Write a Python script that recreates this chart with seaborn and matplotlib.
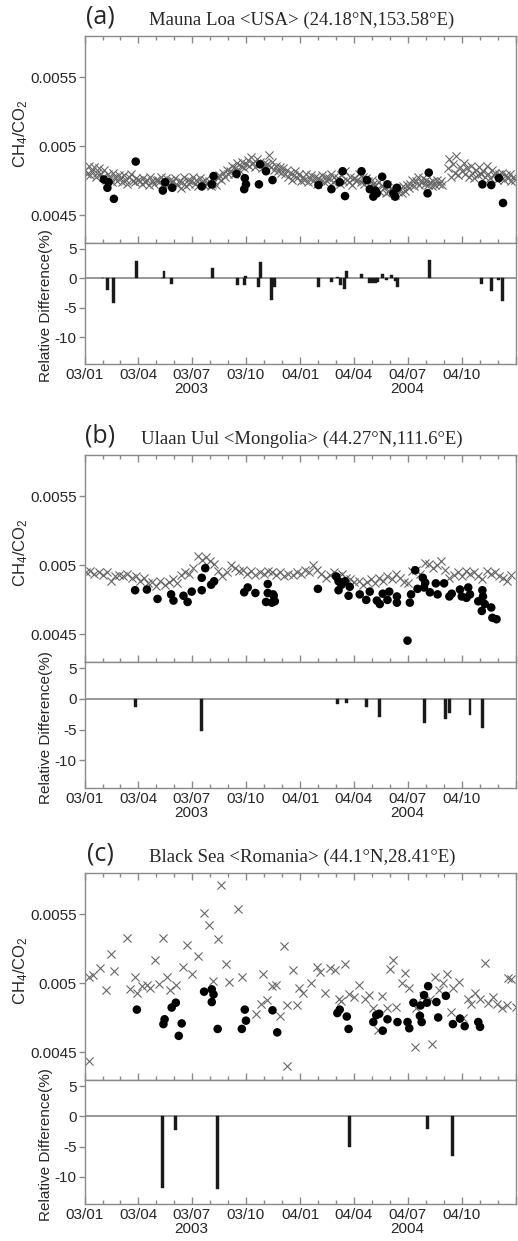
import numpy as np
import pandas as pd
import matplotlib
matplotlib.use("Agg")
import matplotlib.pyplot as plt
import matplotlib.dates as mdates
import seaborn as sns

# ---------------- data (ratios in units of 1e-3, days since 2003-01-01) ----------------
START = pd.Timestamp("2003-01-01")

# (a) Mauna Loa: model every 3 days
a_model = [
    4.83, 4.80, 4.86, 4.79, 4.82, 4.85, 4.78, 4.81, 4.84, 4.80,
    4.78, 4.83, 4.76, 4.80, 4.77, 4.74, 4.81, 4.78, 4.75, 4.79,
    4.77, 4.74, 4.79, 4.76, 4.73, 4.78, 4.80, 4.75, 4.74, 4.77, 4.76,
    4.75, 4.73, 4.77, 4.74, 4.76, 4.72, 4.78, 4.75, 4.73, 4.76,
    4.76, 4.74, 4.78, 4.73, 4.75, 4.77, 4.72, 4.76, 4.74, 4.75,
    4.77, 4.72, 4.75, 4.70, 4.74, 4.78, 4.71, 4.76, 4.73, 4.75,
    4.78, 4.73, 4.76, 4.71, 4.77, 4.74, 4.72, 4.76, 4.73, 4.75, 4.71,
    4.73, 4.75, 4.72, 4.77, 4.79, 4.76, 4.81, 4.78, 4.83, 4.80,
    4.82, 4.86, 4.80, 4.84, 4.88, 4.83, 4.86, 4.89, 4.84, 4.87,
    4.90, 4.86, 4.92, 4.88, 4.85, 4.91, 4.87, 4.89, 4.84, 4.88, 4.86,
    4.87, 4.94, 4.85, 4.89, 4.83, 4.86, 4.82, 4.85, 4.81, 4.84,
    4.80, 4.83, 4.78, 4.81, 4.76, 4.79, 4.82, 4.77, 4.80, 4.75,
    4.78, 4.76, 4.80, 4.74, 4.77, 4.79, 4.75, 4.78, 4.73, 4.77,
    4.76, 4.79, 4.74, 4.78, 4.75, 4.77, 4.80, 4.74, 4.78, 4.76,
    4.77, 4.73, 4.79, 4.75, 4.82, 4.76, 4.74, 4.78, 4.72, 4.77, 4.75,
    4.76, 4.80, 4.74, 4.78, 4.73, 4.77, 4.75, 4.71, 4.76, 4.73,
    4.72, 4.69, 4.74, 4.67, 4.71, 4.70, 4.66, 4.72, 4.68, 4.70,
    4.68, 4.65, 4.70, 4.67, 4.69, 4.66, 4.71, 4.68, 4.72, 4.70,
    4.73, 4.76, 4.71, 4.75, 4.78, 4.72, 4.74, 4.77, 4.73, 4.76, 4.72,
    4.74, 4.71, 4.75, 4.72, 4.76, 4.73, 4.75, 4.72, np.nan, np.nan,
    4.84, 4.91, 4.78, 4.87, 4.81, 4.93, 4.79, 4.85, 4.82, 4.88,
    4.80, 4.84, 4.78, 4.86, 4.81, 4.77, 4.83, 4.79, 4.85, 4.80,
    4.82, 4.78, 4.86, 4.80, 4.77, 4.83, 4.79, 4.81, 4.76, 4.80,
    4.78, 4.81, 4.76, 4.79, 4.77, 4.80, 4.75, 4.78, 4.76,
]
a_obs_day = [32, 38, 40, 49, 86, 132, 136, 148, 198, 215, 218, 257, 270, 271, 273,
             295, 297, 307, 318, 396, 418, 432, 437, 441, 469, 478, 483, 489, 492,
             495, 504, 513, 523, 526, 529, 581, 583, 674, 689, 702, 709]
a_obs = [4.76, 4.70, 4.74, 4.62, 4.89, 4.68, 4.74, 4.70, 4.71, 4.725, 4.785, 4.80, 4.69,
         4.77, 4.725, 4.725, 4.87, 4.82, 4.756, 4.72, 4.69, 4.74, 4.82, 4.64, 4.82,
         4.756, 4.69, 4.636, 4.68, 4.66, 4.78, 4.725, 4.66, 4.636, 4.70, 4.66, 4.81,
         4.725, 4.72, 4.77, 4.59]
a_diff_day = [29, 38, 48, 88, 131, 134, 147, 216, 259, 270, 273, 294, 297, 317, 322,
              396, 418, 428, 434, 440, 443, 469, 482, 487, 492, 496, 505, 512, 520,
              526, 530, 584, 673, 689, 702, 708]
a_diff = [0.1, -2.0, -4.1, 3.0, 0.1, 1.2, -0.9, 1.7, -1.2, -1.1, 0.4, -1.5, 2.8, -3.7,
          -1.4, -1.4, -0.6, 0.3, -1.2, -1.8, 1.3, 0.8, -0.7, -0.7, -0.7, -0.6, 0.8,
          -0.2, 0.6, -0.4, -1.4, 3.05, -1.0, -2.2, -0.2, -3.9]

# (b) Ulaan Uul: model weekly from day 2
b_model = [
    4.95, 4.96, 4.94, 4.95, 4.93, 4.95, 4.89, 4.92, 4.93, 4.92,
    4.94, 4.91, 4.92, 4.89, 4.91, 4.87, 4.88, 4.85, 4.89, 4.86,
    4.88, 4.90, 4.87, 4.93, 4.95, 4.94, 4.98, 5.07, 5.04, 5.06,
    5.03, 5.01, 4.96, 4.92, 4.95, 5.00, 4.98, 4.96, 4.97, 4.94,
    4.96, 4.93, 4.95, 4.94, 4.96, 4.95, 4.93, 4.95, 4.92, 4.94,
    4.93, 4.95, 4.94, 4.97, 4.95, 5.00, 4.97, 4.94, 4.91, 4.93,
    4.95, 4.92, 4.94, 4.91, 4.90, 4.88, 4.89, 4.86, 4.88, 4.90,
    4.87, 4.91, 4.89, 4.92, 4.90, 4.94, 4.91, 4.88, 4.87, 4.96,
    4.97, 4.94, 5.02, 5.01, 4.98, 5.00, 5.03, 4.97, 4.91, 4.93,
    4.95, 4.92, 4.96, 4.94, 4.95, 4.92, 4.90, 4.96, 4.94, 4.95,
    4.92, 4.91, 4.89, 4.93,
]
b_obs_day = [85, 105, 123, 146, 150, 167, 174, 181, 198, 198, 204, 214, 219, 270, 276,
             289, 307, 310, 310, 317, 319, 320, 322, 395, 426, 430, 430, 435, 441, 447,
             449, 466, 477, 483, 495, 500, 505, 513, 516, 529, 529, 547, 551, 553, 560,
             564, 573, 575, 577, 585, 595, 598, 609, 618, 622, 636, 639, 647, 650, 653,
             667, 673, 674, 675, 678, 689, 691, 698]
b_obs = [4.82, 4.825, 4.757, 4.79, 4.745, 4.78, 4.735, 4.81, 4.82, 4.91, 4.98, 4.86,
         4.885, 4.805, 4.84, 4.80, 4.735, 4.865, 4.80, 4.73, 4.79, 4.78, 4.74, 4.83,
         4.92, 4.885, 4.82, 4.86, 4.885, 4.78, 4.845, 4.79, 4.75, 4.81, 4.745, 4.72,
         4.795, 4.75, 4.81, 4.775, 4.73, 4.455, 4.73, 4.79, 4.965, 4.83, 4.91, 4.84,
         4.875, 4.805, 4.87, 4.79, 4.87, 4.775, 4.795, 4.825, 4.775, 4.765, 4.84,
         4.79, 4.74, 4.67, 4.82, 4.775, 4.72, 4.695, 4.62, 4.61]
b_diff_day = [85, 198, 429, 443, 478, 499, 576, 611, 618, 653, 674]
b_diff = [-1.4, -5.2, -0.8, -0.7, -1.4, -2.9, -3.9, -3.3, -2.3, -2.6, -4.8]

# (c) Black Sea: model (irregular)
c_model_day = [6, 7, 14, 25, 36, 44, 49, 71, 76, 85, 89, 96, 105, 111, 119, 126, 133,
               139, 145, 154, 166, 173, 181, 192, 202, 211, 217, 225, 230, 239, 245,
               260, 267, 290, 298, 302, 308, 317, 324, 331, 337, 343, 343, 352, 359,
               363, 370, 384, 393, 399, 407, 416, 424, 430, 435, 441, 447, 456, 465,
               475, 482, 489, 497, 503, 512, 517, 523, 528, 537, 543, 550, 560, 562,
               573, 585, 588, 594, 601, 608, 614, 620, 624, 635, 641, 650, 654, 661,
               670, 678, 684, 692, 698, 708, 716, 718, 723, 731]
c_model = [5.05, 4.44, 5.06, 5.11, 4.95, 5.21, 5.09, 5.33, 4.96, 5.05, 4.93, 4.98,
           4.99, 4.965, 5.17, 4.995, 5.33, 5.05, 4.95, 4.985, 5.12, 5.28, 5.065, 5.20,
           5.51, 5.42, 5.02, 5.32, 5.71, 5.14, 5.01, 5.54, 5.05, 4.78, 4.85, 5.065,
           4.88, 4.98, 4.99, 4.765, 5.27, 4.84, 4.40, 5.10, 4.84, 4.97, 4.93, 5.005,
           5.12, 5.08, 4.93, 5.11, 5.10, 4.885, 4.87, 5.14, 4.92, 4.905, 4.99, 4.89,
           4.915, 4.825, 4.66, 4.91, 4.825, 5.105, 5.17, 4.83, 5.005, 5.077, 4.97,
           4.537, 4.825, 4.91, 4.89, 4.56, 5.05, 4.955, 5.005, 5.065, 4.79, 4.97,
           5.01, 4.75, 4.89, 4.85, 4.93, 4.89, 5.15, 4.86, 4.90, 4.85, 4.82, 4.84,
           5.04, 5.03, 4.83]
c_obs_day = [88, 133, 135, 147, 154, 159, 164, 202, 215, 215, 218, 225, 266, 271, 273,
             318, 326, 428, 432, 444, 447, 489, 494, 499, 505, 513, 530, 547, 550, 557,
             568, 569, 571, 575, 580, 582, 596, 599, 612, 624, 636, 644, 667, 670]
c_obs = [4.81, 4.705, 4.74, 4.825, 4.86, 4.62, 4.71, 4.94, 4.957, 4.865, 4.92, 4.67,
         4.67, 4.81, 4.73, 4.805, 4.645, 4.785, 4.81, 4.76, 4.67, 4.72, 4.77, 4.78,
         4.657, 4.74, 4.72, 4.72, 4.675, 4.86, 4.765, 4.84, 4.72, 4.915, 4.86, 4.98,
         4.865, 4.753, 4.91, 4.705, 4.745, 4.69, 4.72, 4.685]
c_diff_day = [132, 154, 224, 448, 581, 623]
c_diff = [-11.8, -2.3, -12.1, -5.0, -2.1, -6.5]

# ---------------- style ----------------
sns.set_style("ticks")
plt.rcParams["font.family"] = ["Liberation Sans", "DejaVu Sans"]
plt.rcParams["mathtext.fontset"] = "custom"
plt.rcParams["mathtext.rm"] = "Liberation Sans"
plt.rcParams["mathtext.it"] = "Liberation Sans"

SPINE = "#8a8a8a"
W, H = 518, 1241
fig = plt.figure(figsize=(W / 100, H / 100), dpi=100)


def to_dates(days):
    return START + pd.to_timedelta(np.asarray(days, dtype=float), unit="D")


def frame(ax):
    for s in ax.spines.values():
        s.set_visible(True)
        s.set_color(SPINE)
        s.set_linewidth(1.0)
    ax.set_xlim(pd.Timestamp("2003-01-01"), pd.Timestamp("2005-01-01"))
    ax.xaxis.set_major_locator(mdates.MonthLocator(bymonth=[1, 4, 7, 10]))
    ax.xaxis.set_minor_locator(mdates.MonthLocator())
    ax.tick_params(axis="y", which="major", direction="out", length=4, width=1,
                   color=SPINE, labelsize=11, pad=2)
    ax.set_xlabel("")


def panel(letter, title, top, mid, bot, model_x, model_y, obs_x, obs_y, d_x, d_y):
    x0, w = 85 / W, (516 - 85) / W
    ax1 = fig.add_axes([x0, 1 - mid / H, w, (mid - top) / H])
    ax2 = fig.add_axes([x0, 1 - bot / H, w, (bot - mid) / H])

    # scatter panel
    sns.scatterplot(x=model_x, y=np.asarray(model_y) / 1000, ax=ax1, marker="x",
                    color="#666666", s=34, linewidth=0.8, zorder=2)
    sns.scatterplot(x=obs_x, y=np.asarray(obs_y) / 1000, ax=ax1, marker="o",
                    color="black", s=38, edgecolor="none", zorder=3)
    frame(ax1)
    ax1.set_ylim(0.0043, 0.0058)
    ax1.set_yticks([0.0045, 0.005, 0.0055])
    ax1.set_yticklabels(["0.0045", "0.005", "0.0055"])
    ax1.tick_params(axis="x", which="major", direction="in", length=5, width=1,
                    color=SPINE, top=True, bottom=True, labelbottom=False)
    ax1.tick_params(axis="x", which="minor", direction="in", length=3, width=1,
                    color=SPINE, top=True, bottom=True)
    ax1.set_ylabel("CH$_4$/CO$_2$", fontsize=12)
    ax1.yaxis.set_label_coords(-0.128, 0.53)

    # relative difference bars
    ax2.axhline(0, color="#8f8f8f", lw=1.3, zorder=1)
    ax2.bar(to_dates(d_x), d_y, width=5, color="#1a1a1a", edgecolor="#1a1a1a",
            linewidth=0.3, zorder=2)
    frame(ax2)
    ax2.set_ylim(-14.5, 6)
    ax2.set_yticks([5, 0, -5, -10])
    ax2.set_yticklabels(["5", "0", "-5", "-10"])
    ax2.tick_params(axis="x", which="major", direction="in", length=5, width=1,
                    color=SPINE, top=False, bottom=True, labelsize=11, pad=3)
    ax2.tick_params(axis="x", which="minor", direction="in", length=3, width=1,
                    color=SPINE, top=False, bottom=True)
    ax2.set_xticklabels(["03/01", "03/04", "03/07\n2003", "03/10",
                         "04/01", "04/04", "04/07\n2004", "04/10"], linespacing=0.95)
    ax2.set_ylabel("Relative Difference(%)", fontsize=11)
    ax2.yaxis.set_label_coords(-0.074, 0.48)

    fig.text(100 / W, 1 - (top - 19) / H, letter, fontsize=18, family="Open Sans",
             ha="center", va="center")
    fig.text(302 / W, 1 - (top - 16) / H, title, fontsize=13.5,
             family="Liberation Serif", ha="center", va="center")


panel("(a)", "Mauna Loa <USA> (24.18°N,153.58°E)", 36, 243, 364,
      pd.date_range("2003-01-01", periods=len(a_model), freq="3D"), a_model,
      to_dates(a_obs_day), a_obs, a_diff_day, a_diff)
panel("(b)", "Ulaan Uul <Mongolia> (44.27°N,111.6°E)", 455, 662, 788,
      pd.date_range("2003-01-03", periods=len(b_model), freq="7D"), b_model,
      to_dates(b_obs_day), b_obs, b_diff_day, b_diff)
panel("(c)", "Black Sea <Romania> (44.1°N,28.41°E)", 873, 1080, 1204,
      to_dates(c_model_day), c_model, to_dates(c_obs_day), c_obs, c_diff_day, c_diff)

fig.savefig("out.png", dpi=100)
